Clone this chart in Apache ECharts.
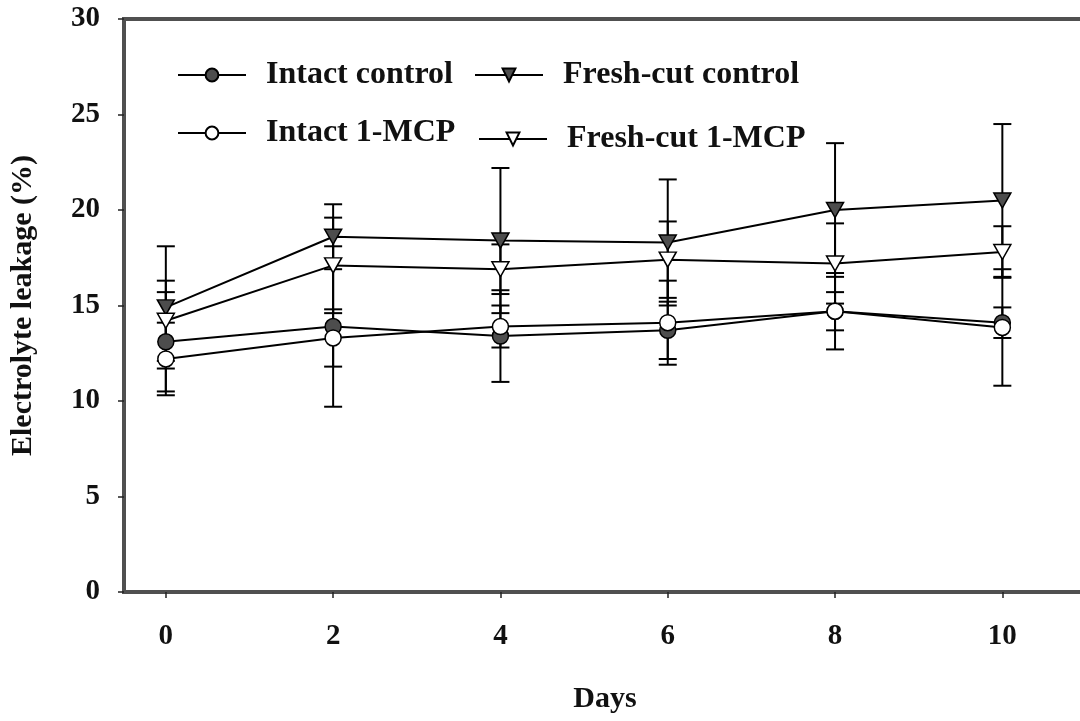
<!DOCTYPE html>
<html>
<head>
<meta charset="utf-8">
<script src="https://cdn.jsdelivr.net/npm/echarts@6/dist/echarts.min.js"></script>
<style>html,body{margin:0;padding:0;background:#fff;}#c{width:1080px;height:721px;}</style>
</head>
<body>
<div id="c"></div>
<script>
const days = [0, 2, 4, 6, 8, 10];
const yTicks = [0, 5, 10, 15, 20, 25, 30];
const intactControl = [13.1, 13.9, 13.4, 13.7, 14.7, 14.1];
const intactControlSD = [2.6, 4.2, 2.4, 1.5, 1.0, 0.8];
const freshCutControl = [14.9, 18.6, 18.4, 18.3, 20.0, 20.5];
const freshCutControlSD = [3.2, 1.7, 3.8, 3.3, 3.5, 4.0];
const intactMCP = [12.2, 13.3, 13.9, 14.1, 14.7, 13.85];
const intactMCPSD = [1.9, 1.5, 1.1, 2.2, 2.0, 3.05];
const freshCutMCP = [14.2, 17.1, 16.9, 17.4, 17.2, 17.8];
const freshCutMCPSD = [2.1, 2.5, 1.3, 2.0, 2.1, 1.35];

const FONT = 'Liberation Serif';
const frameColor = '#505050';
const fillGray = '#4d4d4d';
const downTri = 'path://M0,0 L10,0 L5,9 Z';

function pts(v) { return days.map((d, i) => [d, v[i]]); }
function errs(v, sd) { return days.map((d, i) => [d, v[i] - sd[i], v[i] + sd[i]]); }

function errSeries(name, v, sd) {
  return {
    type: 'custom', name: name + ' err', z: 1,
    data: errs(v, sd),
    encode: { x: 0, y: [1, 2] },
    renderItem: function (params, api) {
      const x = api.value(0), lo = api.value(1), hi = api.value(2);
      const a = api.coord([x, hi]), b = api.coord([x, lo]);
      const w = 9;
      const st = { stroke: '#000', lineWidth: 2 };
      return { type: 'group', children: [
        { type: 'line', shape: { x1: a[0], y1: a[1], x2: b[0], y2: b[1] }, style: st },
        { type: 'line', shape: { x1: a[0] - w, y1: a[1], x2: a[0] + w, y2: a[1] }, style: st },
        { type: 'line', shape: { x1: b[0] - w, y1: b[1], x2: b[0] + w, y2: b[1] }, style: st }
      ]};
    }
  };
}

function lineSeries(name, v, symbol, size, fill) {
  return {
    type: 'line', name: name, z: 5,
    data: pts(v),
    symbol: symbol, symbolSize: size, showAllSymbol: true,
    lineStyle: { color: '#000', width: 2 },
    itemStyle: { color: fill, borderColor: '#000', borderWidth: 1.5 },
    emphasis: { disabled: true }
  };
}

const legendText = { fontFamily: FONT, fontWeight: 'bold', fontSize: 32, color: '#111', padding: [0, 0, 0, 15] };
function legendAt(left, top, name) {
  return { left: left, top: top, data: [name], itemWidth: 68, itemHeight: 16,
           textStyle: legendText, selectedMode: false };
}

const chart = echarts.init(document.getElementById('c'), null, { renderer: 'canvas' });
chart.setOption({
  backgroundColor: '#fff',
  animation: false,
  grid: { left: 124, top: 19, width: 962, height: 573, show: true, outerBoundsMode: 'none',
          containLabel: false,
          borderColor: frameColor, borderWidth: 4, backgroundColor: 'transparent' },
  legend: [
    legendAt(172, 54, 'Intact control'),
    legendAt(469, 54, 'Fresh-cut control'),
    legendAt(172, 112, 'Intact 1-MCP'),
    legendAt(473, 118, 'Fresh-cut 1-MCP')
  ],
  xAxis: {
    type: 'value', min: -0.5, max: 11,
    name: 'Days', nameLocation: 'middle', nameGap: 92,
    nameTextStyle: { fontFamily: FONT, fontWeight: 'bold', fontSize: 30, color: '#111' },
    axisLine: { show: true, onZero: false, lineStyle: { color: frameColor, width: 4 } },
    axisTick: { show: true, inside: false, length: 6, customValues: days, lineStyle: { color: '#222', width: 1.5 } },
    axisLabel: { customValues: days, margin: 30, fontFamily: FONT, fontWeight: 'bold', fontSize: 29, color: '#111' },
    splitLine: { show: false }
  },
  yAxis: {
    type: 'value', min: 0, max: 30, interval: 5,
    name: 'Electrolyte leakage (%)', nameLocation: 'middle', nameGap: 86,
    nameTextStyle: { fontFamily: FONT, fontWeight: 'bold', fontSize: 30, color: '#111' },
    axisLine: { show: true, onZero: false, lineStyle: { color: frameColor, width: 4 } },
    axisTick: { show: true, inside: false, length: 6, lineStyle: { color: '#222', width: 1.5 } },
    axisLabel: { margin: 24, fontFamily: FONT, fontWeight: 'bold', fontSize: 29, color: '#111',
                 formatter: v => yTicks.includes(v) ? String(v) : '' },
    splitLine: { show: false }
  },
  series: [
    errSeries('Intact control', intactControl, intactControlSD),
    errSeries('Fresh-cut control', freshCutControl, freshCutControlSD),
    errSeries('Intact 1-MCP', intactMCP, intactMCPSD),
    errSeries('Fresh-cut 1-MCP', freshCutMCP, freshCutMCPSD),
    lineSeries('Intact control', intactControl, 'circle', 16, fillGray),
    lineSeries('Intact 1-MCP', intactMCP, 'circle', 16, '#fff'),
    lineSeries('Fresh-cut control', freshCutControl, downTri, [17, 15], fillGray),
    lineSeries('Fresh-cut 1-MCP', freshCutMCP, downTri, [17, 15], '#fff')
  ]
});
</script>
</body>
</html>
